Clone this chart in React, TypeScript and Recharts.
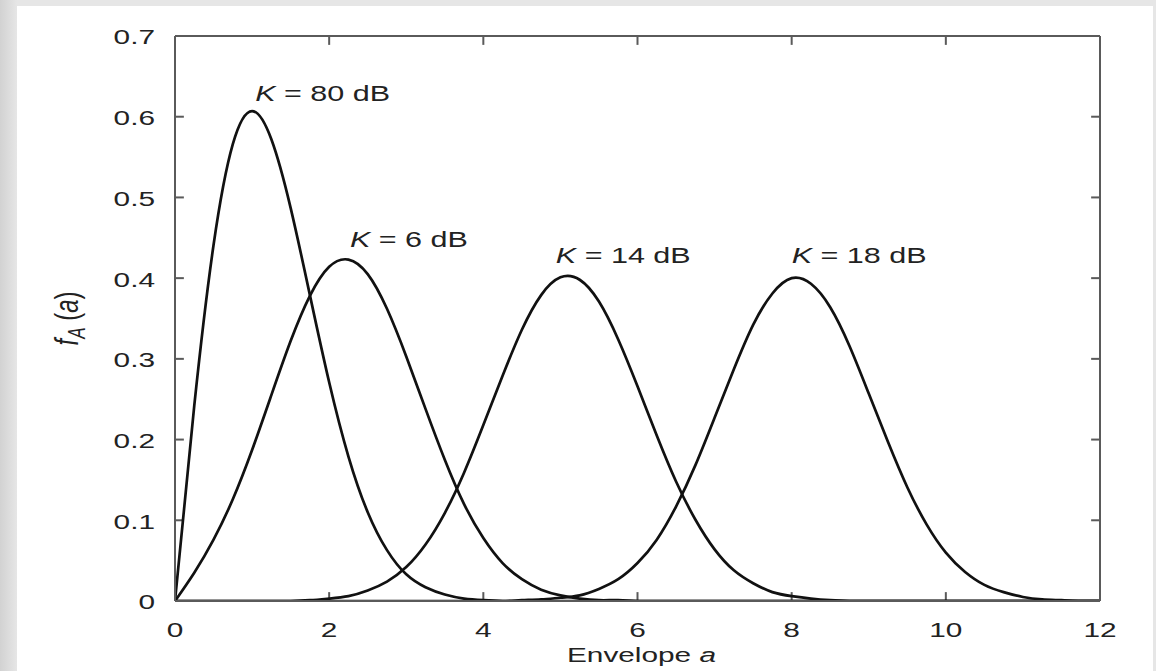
import { LineChart, Line, XAxis, YAxis, ReferenceDot, ReferenceLine } from "recharts"

// envelope samples (a) and the density read for each K value
const envelope = [
  0, 0.25, 0.5, 0.75, 1, 1.25, 1.5, 1.75, 2, 2.25, 2.5, 2.75, 3, 3.25, 3.5, 3.75, 4, 4.25, 4.5, 4.75, 5, 5.25, 5.5,
  5.75, 6, 6.25, 6.5, 6.75, 7, 7.25, 7.5, 7.75, 8, 8.25, 8.5, 8.75, 9, 9.25, 9.5, 9.75, 10, 10.25, 10.5, 10.75, 11,
  11.25, 11.5, 11.75, 12,
]
const k80 = [
  0, 0.242, 0.441, 0.566, 0.607, 0.572, 0.487, 0.379, 0.271, 0.179, 0.11, 0.063, 0.033, 0.017, 0.008, 0.003, 0.001,
  0, 0, 0, 0, 0, 0, 0, 0, 0, 0, 0, 0, 0, 0, 0, 0, 0, 0, 0, 0, 0, 0, 0, 0, 0, 0, 0, 0, 0, 0, 0, 0,
]
const k6 = [
  0, 0.035, 0.076, 0.126, 0.187, 0.255, 0.322, 0.378, 0.414, 0.423, 0.405, 0.362, 0.303, 0.238, 0.175, 0.12, 0.078,
  0.047, 0.027, 0.014, 0.007, 0.003, 0.001, 0.001, 0, 0, 0, 0, 0, 0, 0, 0, 0, 0, 0, 0, 0, 0, 0, 0, 0, 0, 0, 0, 0, 0,
  0, 0, 0,
]
const k14 = [
  0, 0, 0, 0, 0, 0, 0, 0.001, 0.003, 0.006, 0.013, 0.024, 0.042, 0.07, 0.109, 0.159, 0.218, 0.279, 0.336, 0.379, 0.401,
  0.398, 0.371, 0.324, 0.266, 0.205, 0.148, 0.101, 0.064, 0.038, 0.022, 0.011, 0.006, 0.003, 0.001, 0, 0, 0, 0, 0, 0,
  0, 0, 0, 0, 0, 0, 0, 0,
]
const k18 = [
  0, 0, 0, 0, 0, 0, 0, 0, 0, 0, 0, 0, 0, 0, 0, 0, 0, 0, 0.001, 0.002, 0.004, 0.007, 0.015, 0.027, 0.047, 0.076, 0.117,
  0.168, 0.227, 0.287, 0.342, 0.381, 0.4, 0.393, 0.364, 0.316, 0.257, 0.197, 0.141, 0.095, 0.06, 0.036, 0.02, 0.011,
  0.005, 0.002, 0.001, 0, 0,
]

const xTicks = [0, 2, 4, 6, 8, 10, 12]
const yTicks = [0, 0.1, 0.2, 0.3, 0.4, 0.5, 0.6, 0.7]

// curve annotations: text start (a) and baseline (f)
const labelValues = ["80 dB", "6 dB", "14 dB", "18 dB"]
const labelA = [1.04, 2.27, 4.94, 8.0]
const labelF = [0.619, 0.438, 0.419, 0.419]

const rows = envelope.map((a, i) => ({ a, k80: k80[i], k6: k6[i], k14: k14[i], k18: k18[i] }))

const X_MAX = 12
const Y_MAX = 0.7
// inward tick length, in axis units (about 9px each way)
const TICK_DX = 0.115
const TICK_DY = 0.011

const FONT = '"Liberation Sans", Arial, Helvetica, sans-serif'
const STRETCH = 1.42
const FRAME = "#5a5a5a"
const INK = "#222"

const XTick = ({ x, y, payload }: any) => (
  <g transform={`translate(${x},${y}) scale(${STRETCH},1)`}>
    <text textAnchor="middle" dy="0.72em" fontSize={21} fill={INK} fontFamily={FONT}>
      {payload.value}
    </text>
  </g>
)

const YTick = ({ x, y, payload }: any) => (
  <g transform={`translate(${x},${y}) scale(${STRETCH},1)`}>
    <text textAnchor="end" dy="0.4em" fontSize={21} fill={INK} fontFamily={FONT}>
      {payload.value === 0 ? "0" : payload.value.toFixed(1)}
    </text>
  </g>
)

const YTitle = ({ viewBox }: any) => {
  const cx = viewBox.x + 68
  const cy = viewBox.y + viewBox.height / 2
  return (
    <g transform={`translate(${cx},${cy}) scale(${STRETCH},1) rotate(-90)`}>
      <text textAnchor="middle" dy="0.3em" fontSize={24} fill={INK} fontFamily={FONT}>
        <tspan fontStyle="italic">f</tspan>
        <tspan fontStyle="italic" fontSize={17} dy={5}>
          A
        </tspan>
        <tspan dy={-5}> (</tspan>
        <tspan fontStyle="italic">a</tspan>
        <tspan>)</tspan>
      </text>
    </g>
  )
}

const XTitle = ({ viewBox }: any) => {
  const cx = viewBox.x + viewBox.width / 2 + 4
  return (
    <g transform={`translate(${cx},${viewBox.y + 61}) scale(${STRETCH},1)`}>
      <text textAnchor="middle" fontSize={21} fill={INK} fontFamily={FONT}>
        Envelope <tspan fontStyle="italic">a</tspan>
      </text>
    </g>
  )
}

const CurveLabel = ({ viewBox, text }: any) => (
  <g transform={`translate(${viewBox.x},${viewBox.y}) scale(${STRETCH},1)`}>
    <text textAnchor="start" fontSize={21.5} fill={INK} fontFamily={FONT}>
      <tspan fontStyle="italic">K</tspan>
      <tspan>{" = " + text}</tspan>
    </text>
  </g>
)

const series = [
  { key: "k80", name: "K = 80 dB" },
  { key: "k6", name: "K = 6 dB" },
  { key: "k14", name: "K = 14 dB" },
  { key: "k18", name: "K = 18 dB" },
]

const frameLine = { stroke: FRAME, strokeWidth: 2 }

export default function App() {
  return (
    <div
      style={{
        position: "fixed",
        left: 0,
        top: 0,
        width: 1156,
        height: 671,
        background: "linear-gradient(to right, #d2d2d2 0px, #e6e6e6 17px, #e6e6e6 100%)",
        overflow: "hidden",
      }}
    >
      <div style={{ position: "absolute", left: 17, top: 6, width: 1136, height: 665, background: "#fff" }} />
      <div style={{ position: "absolute", left: 0, top: 0 }}>
        <LineChart width={1156} height={671} data={rows} margin={{ top: 0, right: 0, left: 0, bottom: 0 }}>
          <XAxis
            xAxisId="bottom"
            dataKey="a"
            type="number"
            domain={[0, X_MAX]}
            allowDataOverflow
            ticks={xTicks}
            height={70}
            tickLine={false}
            tickMargin={15}
            tick={<XTick />}
            axisLine={frameLine}
            label={<XTitle />}
          />
          <XAxis
            xAxisId="top"
            orientation="top"
            dataKey="a"
            type="number"
            domain={[0, X_MAX]}
            allowDataOverflow
            ticks={xTicks}
            height={36}
            tickLine={false}
            tick={false}
            axisLine={frameLine}
          />
          <YAxis
            yAxisId="left"
            type="number"
            domain={[0, Y_MAX]}
            allowDataOverflow
            ticks={yTicks}
            width={175}
            tickLine={false}
            tickMargin={14}
            tick={<YTick />}
            axisLine={frameLine}
            label={<YTitle />}
          />
          <YAxis
            yAxisId="right"
            orientation="right"
            type="number"
            domain={[0, Y_MAX]}
            allowDataOverflow
            ticks={yTicks}
            width={56}
            tickLine={false}
            tick={false}
            axisLine={frameLine}
          />

          {/* inward tick marks on all four sides of the frame */}
          {xTicks.slice(1, -1).flatMap((t) => [
            <ReferenceLine
              key={`xb${t}`}
              xAxisId="bottom"
              yAxisId="left"
              segment={[
                { x: t, y: 0 },
                { x: t, y: TICK_DY },
              ]}
              {...frameLine}
            />,
            <ReferenceLine
              key={`xt${t}`}
              xAxisId="bottom"
              yAxisId="left"
              segment={[
                { x: t, y: Y_MAX },
                { x: t, y: Y_MAX - TICK_DY },
              ]}
              {...frameLine}
            />,
          ])}
          {yTicks.slice(1, -1).flatMap((t) => [
            <ReferenceLine
              key={`yl${t}`}
              xAxisId="bottom"
              yAxisId="left"
              segment={[
                { x: 0, y: t },
                { x: TICK_DX, y: t },
              ]}
              {...frameLine}
            />,
            <ReferenceLine
              key={`yr${t}`}
              xAxisId="bottom"
              yAxisId="left"
              segment={[
                { x: X_MAX, y: t },
                { x: X_MAX - TICK_DX, y: t },
              ]}
              {...frameLine}
            />,
          ])}

          {series.map((s) => (
            <Line
              key={s.key}
              xAxisId="bottom"
              yAxisId="left"
              type="natural"
              dataKey={s.key}
              name={s.name}
              stroke="#111"
              strokeWidth={2.7}
              dot={false}
              activeDot={false}
              isAnimationActive={false}
            />
          ))}
          {labelValues.map((v, i) => (
            <ReferenceDot
              key={v}
              xAxisId="bottom"
              yAxisId="left"
              x={labelA[i]}
              y={labelF[i]}
              r={0}
              fill="none"
              stroke="none"
              label={<CurveLabel text={v} />}
            />
          ))}
        </LineChart>
      </div>
    </div>
  )
}
